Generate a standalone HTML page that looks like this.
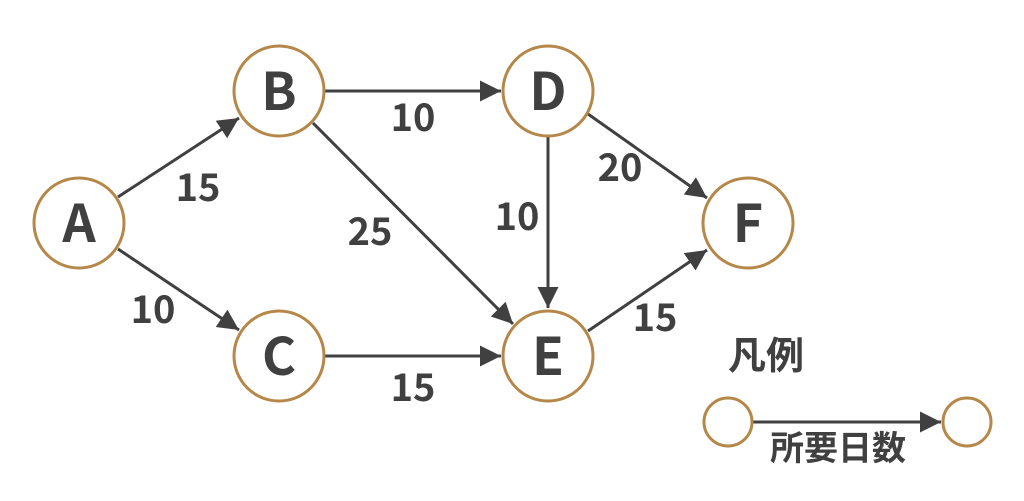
<!DOCTYPE html>
<html><head><meta charset="utf-8"><style>html,body{margin:0;padding:0;background:#fff}</style></head><body>
<svg width="1024" height="501" xmlns="http://www.w3.org/2000/svg" style="display:block">
<defs><marker id="ah" markerWidth="8" markerHeight="8" refX="7" refY="4" orient="auto" markerUnits="strokeWidth"><path d="M0,0.5 L7,4 L0,7.5 Z" fill="#404040"/></marker></defs>
<g stroke="#404040" stroke-width="3" fill="none" marker-end="url(#ah)">
<line x1="118" y1="197" x2="239" y2="118"/>
<line x1="118" y1="249" x2="239" y2="330"/>
<line x1="325" y1="91" x2="501" y2="91"/>
<line x1="325" y1="356" x2="501" y2="356"/>
<line x1="313" y1="123" x2="513" y2="324"/>
<line x1="548" y1="137" x2="548" y2="308"/>
<line x1="588" y1="114" x2="707" y2="198"/>
<line x1="588" y1="331" x2="707" y2="250"/>
<line x1="752" y1="422" x2="941" y2="422"/>
</g>
<g stroke="#b5884a" stroke-width="3" fill="#fff">
<circle cx="79" cy="223" r="45"/><circle cx="279" cy="91" r="45"/><circle cx="279" cy="356" r="45"/>
<circle cx="548" cy="91" r="45"/><circle cx="548" cy="356" r="45"/><circle cx="748" cy="223" r="45"/>
<circle cx="728" cy="422" r="24"/><circle cx="967" cy="422" r="24"/>
</g>
<g font-family="Noto Sans CJK JP, Liberation Sans, sans-serif" font-weight="bold" fill="#404040" text-anchor="middle">
<g font-size="52"><text x="79" y="242">A</text><text x="279" y="110">B</text><text x="279" y="375">C</text><text x="548" y="110">D</text><text x="548" y="375">E</text><text x="748" y="242">F</text></g>
<g font-size="38"><text x="198" y="201">15</text><text x="153" y="323">10</text><text x="413" y="131">10</text><text x="370" y="245">25</text><text x="517" y="230">10</text><text x="620" y="181">20</text><text x="655" y="331">15</text><text x="413" y="401">15</text></g>
<text x="766" y="369" font-size="38">凡例</text>
<text x="838" y="460" font-size="34">所要日数</text>
</g>
</svg>
</body></html>
